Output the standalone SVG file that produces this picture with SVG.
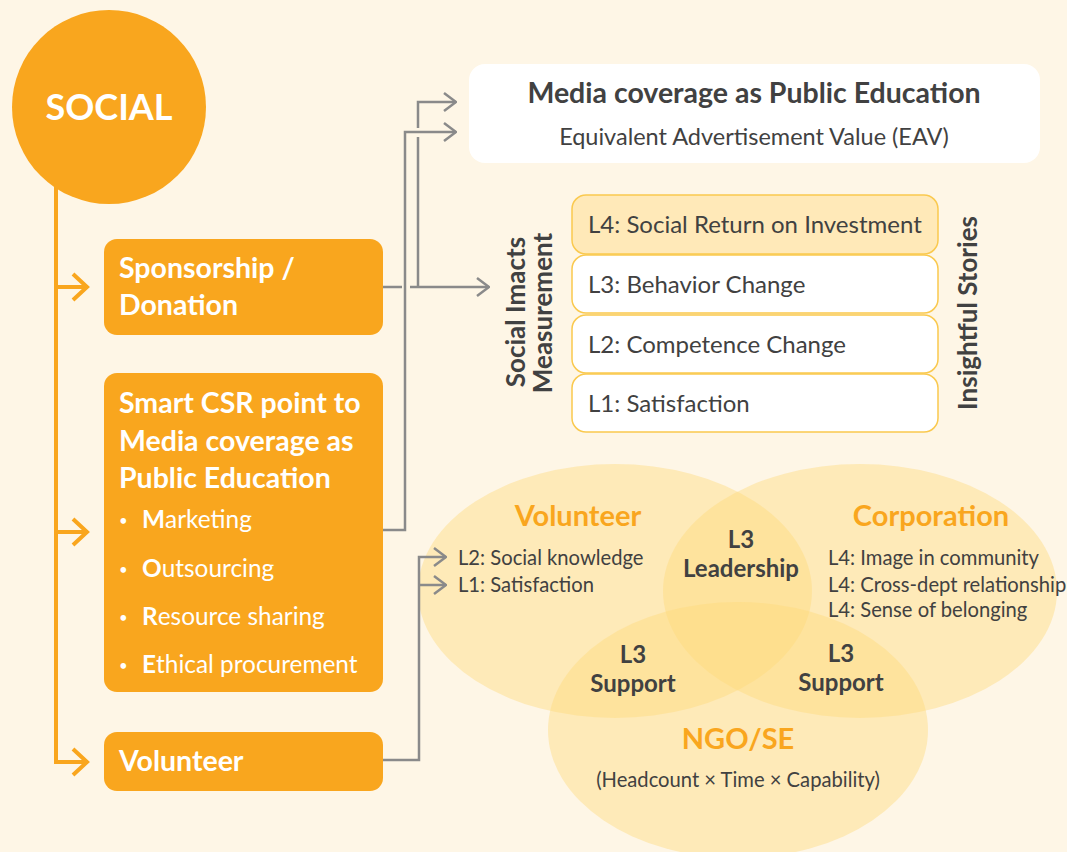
<svg xmlns="http://www.w3.org/2000/svg" width="1067" height="852" viewBox="0 0 1067 852">
  <style>
    text { font-family: Lato, "Liberation Sans", sans-serif; }
    .box { fill: #F9A61E; }
    .wt { fill: #ffffff; font-weight: 700; font-size: 28.5px; }
    .wr { fill: #ffffff; font-size: 24.4px; }
    .bul { fill: #ffffff; font-size: 15px; }
    .dk { fill: #414141; }
    .lvl { stroke: #FAC94E; stroke-width: 1.5; }
    .lvt { fill: #414141; font-size: 24px; }
    .side { fill: #414141; font-weight: 700; font-size: 26px; text-anchor: middle; }
    .venn { fill: #FFDA7C; fill-opacity: 0.43; }
    .vh { fill: #F9A61E; font-weight: 700; font-size: 29px; text-anchor: middle; }
    .vs { fill: #414141; font-size: 20.2px; }
    .vb { fill: #414141; font-weight: 700; font-size: 24px; text-anchor: middle; }
    .gl { fill: none; stroke: #8A8A8A; stroke-width: 2.5; }
    .ol { fill: none; stroke: #F9A61E; stroke-width: 4; }
  </style>
  <defs>
    <marker id="gArrow" viewBox="0 0 14 20" refX="13" refY="10" markerWidth="14" markerHeight="20" markerUnits="userSpaceOnUse" orient="auto">
      <path d="M1,1 L13,10 L1,19" fill="none" stroke="#8A8A8A" stroke-width="2.5"/>
    </marker>
    <marker id="oArrow" viewBox="0 0 20 30" refX="18" refY="15" markerWidth="20" markerHeight="30" markerUnits="userSpaceOnUse" orient="auto">
      <path d="M3,2 L17,15 L3,28" fill="none" stroke="#F9A61E" stroke-width="4"/>
    </marker>
  </defs>

  <rect width="1067" height="852" fill="#FEF6E6"/>

  <!-- Venn of stakeholders -->
  <g id="venn">
    <ellipse class="venn" cx="615" cy="591" rx="197" ry="127"/>
    <ellipse class="venn" cx="860" cy="591" rx="197" ry="127"/>
    <ellipse class="venn" cx="738" cy="730" rx="190" ry="128"/>
  </g>

  <!-- Trunk with orange arrows -->
  <g id="trunk">
    <path class="ol" d="M56,185 V762 H88" />
    <path class="ol" d="M56,287 H88" marker-end="url(#oArrow)"/>
    <path class="ol" d="M56,532 H88" marker-end="url(#oArrow)"/>
    <path class="ol" d="M56,762 H88" marker-end="url(#oArrow)"/>
  </g>

  <g id="social">
    <circle cx="109" cy="107" r="97" fill="#F9A61E"/>
    <text x="109" y="120" fill="#ffffff" font-weight="700" font-size="36" text-anchor="middle">SOCIAL</text>
  </g>

  <g id="sponsorship">
    <rect class="box" x="104" y="239" width="279" height="96" rx="13"/>
    <text class="wt" x="119" y="278">Sponsorship /</text>
    <text class="wt" x="119" y="315">Donation</text>
  </g>

  <g id="smart-csr">
    <rect class="box" x="104" y="373" width="279" height="319" rx="13"/>
    <text class="wt" x="119" y="413">Smart CSR point to</text>
    <text class="wt" x="119" y="451">Media coverage as</text>
    <text class="wt" x="119" y="488">Public Education</text>
    <text class="bul" x="119" y="526">•</text>
    <text class="wr" x="142" y="528"><tspan font-weight="700">M</tspan>arketing</text>
    <text class="bul" x="119" y="575">•</text>
    <text class="wr" x="142" y="577"><tspan font-weight="700">O</tspan>utsourcing</text>
    <text class="bul" x="119" y="623">•</text>
    <text class="wr" x="142" y="625"><tspan font-weight="700">R</tspan>esource sharing</text>
    <text class="bul" x="119" y="671">•</text>
    <text class="wr" x="142" y="673"><tspan font-weight="700">E</tspan>thical procurement</text>
  </g>

  <g id="volunteer">
    <rect class="box" x="104" y="732" width="279" height="59" rx="13"/>
    <text class="wt" x="119" y="771">Volunteer</text>
  </g>

  <g id="media">
    <rect x="469" y="64" width="571" height="99" rx="16" fill="#ffffff"/>
    <text class="dk" x="754" y="103" font-size="28.5" font-weight="700" text-anchor="middle">Media coverage as Public Education</text>
    <text class="dk" x="754" y="145" font-size="23.5" text-anchor="middle">Equivalent Advertisement Value (EAV)</text>
  </g>

  <g id="levels">
    <rect class="lvl" x="572" y="195" width="366" height="59" rx="14" fill="#FFE9B8"/>
    <rect class="lvl" x="572" y="255" width="366" height="58" rx="14" fill="#ffffff"/>
    <rect class="lvl" x="572" y="315" width="366" height="58" rx="14" fill="#ffffff"/>
    <rect class="lvl" x="572" y="374" width="366" height="58" rx="14" fill="#ffffff"/>
    <text class="lvt" x="588" y="233">L4: Social Return on Investment</text>
    <text class="lvt" x="588" y="293">L3: Behavior Change</text>
    <text class="lvt" x="588" y="353">L2: Competence Change</text>
    <text class="lvt" x="588" y="412">L1: Satisfaction</text>
  </g>

  <g id="measurement-label">
    <text class="side" transform="translate(525,312) rotate(-90)">Social Imacts</text>
    <text class="side" transform="translate(552,313) rotate(-90)">Measurement</text>
  </g>

  <g id="stories-label">
    <text class="side" transform="translate(977,313) rotate(-90)">Insightful Stories</text>
  </g>

  <g id="venn-labels">
    <text class="vh" x="578" y="526">Volunteer</text>
    <text class="vs" x="458" y="565">L2: Social knowledge</text>
    <text class="vs" x="458" y="592">L1: Satisfaction</text>
    <text class="vb" x="741" y="548">L3</text>
    <text class="vb" x="741" y="577">Leadership</text>
    <text class="vh" x="931" y="526">Corporation</text>
    <text class="vs" x="828" y="565">L4: Image in community</text>
    <text class="vs" x="828" y="592">L4: Cross-dept relationship</text>
    <text class="vs" x="828" y="617">L4: Sense of belonging</text>
    <text class="vb" x="633" y="663">L3</text>
    <text class="vb" x="633" y="692">Support</text>
    <text class="vb" x="841" y="662">L3</text>
    <text class="vb" x="841" y="691">Support</text>
    <text class="vh" x="738" y="749">NGO/SE</text>
    <text class="vs" x="738" y="787" text-anchor="middle">(Headcount × Time × Capability)</text>
  </g>

  <!-- Gray connectors -->
  <g id="connectors">
    <path class="gl" d="M383,287 H402"/>
    <path class="gl" d="M410,287 H489" marker-end="url(#gArrow)"/>
    <path class="gl" d="M418,287 V137"/>
    <path class="gl" d="M418,128 V102 H456" marker-end="url(#gArrow)"/>
    <path class="gl" d="M383,530 H405 V132 H456" marker-end="url(#gArrow)"/>
    <path class="gl" d="M383,760 H419 V557 H446" marker-end="url(#gArrow)"/>
    <path class="gl" d="M419,585 H446" marker-end="url(#gArrow)"/>
  </g>
</svg>
